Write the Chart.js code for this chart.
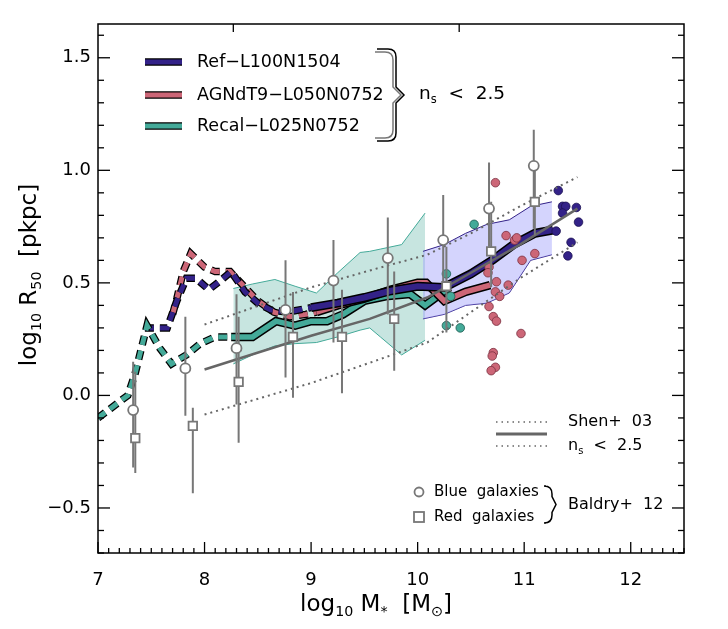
<!DOCTYPE html>
<html>
<head>
<meta charset="utf-8">
<script src="https://cdn.jsdelivr.net/npm/chart.js@4.4.1/dist/chart.umd.min.js"></script>
<style>
  html, body { margin: 0; padding: 0; background: #fff; }
  canvas { display: block; }
</style>
</head>
<body>
<canvas id="size-mass" width="728" height="629"></canvas>
<script>
// --- values (log10 M*, log10 R50) ---
const xTicks = [7, 8, 9, 10, 11, 12];
const yTicks = [-0.5, 0, 0.5, 1.0, 1.5];
const topTicks = [8.27, 10.39];

// Ref-L100N1504
const refDashX = [7.44, 7.65, 7.74, 7.83, 7.92, 8.04, 8.15, 8.25, 8.38, 8.5, 8.62, 8.78, 9.0];
const refDashY = [0.30, 0.30, 0.42, 0.52, 0.52, 0.47, 0.51, 0.55, 0.46, 0.41, 0.38, 0.37, 0.39];
const refX = [9.0, 9.25, 9.5, 9.75, 10.0, 10.25, 10.5, 10.7, 10.9, 11.1, 11.27];
const refY = [0.39, 0.41, 0.435, 0.465, 0.485, 0.48, 0.54, 0.60, 0.67, 0.72, 0.735];
const refBandX = [10.05, 10.25, 10.45, 10.65, 10.86, 11.06, 11.26];
const refBandHi = [0.64, 0.67, 0.72, 0.76, 0.78, 0.84, 0.86];
const refBandLo = [0.34, 0.36, 0.40, 0.41, 0.455, 0.60, 0.625];
const refDotsX = [11.32, 11.36, 11.39, 11.36, 11.49, 11.51, 11.30, 11.44, 11.41];
const refDotsY = [0.91, 0.84, 0.84, 0.81, 0.835, 0.77, 0.73, 0.68, 0.62];

// AGNdT9-L050N0752
const agnDashX = [7.70, 7.74, 7.80, 7.87, 8.0, 8.1, 8.24, 8.36, 8.5, 8.65, 8.8, 8.95, 9.05];
const agnDashY = [0.36, 0.43, 0.55, 0.63, 0.57, 0.55, 0.55, 0.49, 0.42, 0.37, 0.35, 0.36, 0.37];
const agnX = [9.05, 9.25, 9.5, 9.75, 10.0, 10.08, 10.25, 10.45, 10.68];
const agnY = [0.37, 0.40, 0.43, 0.47, 0.50, 0.50, 0.42, 0.46, 0.49];
const agnDotsX = [10.73, 10.83, 10.91, 10.93, 11.10, 10.98, 10.67, 10.66, 10.74, 10.85, 10.73, 10.77, 10.67, 10.71, 10.74, 10.97, 10.71, 10.70, 10.73, 10.69];
const agnDotsY = [0.945, 0.71, 0.69, 0.70, 0.63, 0.60, 0.57, 0.545, 0.505, 0.49, 0.46, 0.44, 0.395, 0.35, 0.33, 0.275, 0.19, 0.175, 0.125, 0.11];

// Recal-L025N0752
const recalDashX = [7.0, 7.28, 7.35, 7.46, 7.58, 7.69, 7.83, 7.96, 8.1, 8.25];
const recalDashY = [-0.10, 0.0, 0.10, 0.31, 0.21, 0.14, 0.18, 0.23, 0.26, 0.26];
const recalX = [8.25, 8.45, 8.67, 8.85, 9.0, 9.15, 9.3, 9.5, 9.7, 9.93, 10.07, 10.3];
const recalY = [0.26, 0.26, 0.33, 0.31, 0.33, 0.33, 0.36, 0.42, 0.44, 0.45, 0.40, 0.48];
const recalBandX = [8.27, 8.45, 8.66, 8.85, 9.05, 9.25, 9.46, 9.55, 9.65, 9.85, 10.07];
const recalBandHi = [0.475, 0.495, 0.515, 0.485, 0.455, 0.545, 0.635, 0.64, 0.65, 0.67, 0.81];
const recalBandLo = [0.14, 0.18, 0.22, 0.23, 0.235, 0.26, 0.29, 0.30, 0.26, 0.18, 0.245];
const recalDotsX = [10.53, 10.27, 10.31, 10.27, 10.40];
const recalDotsY = [0.76, 0.54, 0.44, 0.31, 0.30];

// Shen+03, n_s < 2.5
const shenX = [8.0, 9.0, 9.55, 10.09, 10.5, 10.96, 11.5];
const shenMed = [0.115, 0.265, 0.34, 0.435, 0.545, 0.67, 0.83];
const shenHi = [0.315, 0.48, 0.555, 0.625, 0.72, 0.84, 0.97];
const shenLo = [-0.085, 0.055, 0.145, 0.235, 0.37, 0.52, 0.68];

// Baldry+12
const blueX = [7.33, 7.82, 8.30, 8.76, 9.21, 9.72, 10.24, 10.67, 11.09];
const blueY = [-0.065, 0.12, 0.21, 0.38, 0.51, 0.61, 0.69, 0.83, 1.02];
const blueHi = [0.15, 0.35, 0.45, 0.60, 0.69, 0.79, 0.89, 1.035, 1.18];
const blueLo = [-0.32, -0.09, -0.04, 0.08, 0.235, 0.36, 0.48, 0.66, 0.74];
const redX = [7.35, 7.89, 8.32, 8.83, 9.29, 9.78, 10.27, 10.69, 11.10];
const redY = [-0.19, -0.135, 0.06, 0.26, 0.26, 0.34, 0.485, 0.64, 0.86];
const redHi = [0.105, -0.055, 0.35, 0.46, 0.47, 0.55, 0.66, 0.86, 1.02];
const redLo = [-0.345, -0.435, -0.21, -0.01, 0.01, 0.11, 0.28, 0.48, 0.71];

const NAVY = '#332288', ROSE = '#CC6677', TEAL = '#44AA99', GREY = '#777777';
const FONT = '"DejaVu Sans", sans-serif';

function pts(xs, ys) { return xs.map((x, i) => ({ x: x, y: ys[i] })); }
function bars(xs, lo, hi) {
  const out = [];
  xs.forEach((x, i) => { out.push({ x: x, y: lo[i] }, { x: x, y: hi[i] }, { x: x, y: null }); });
  return out;
}
function line(data, color, width, order, dash) {
  return { data: data, borderColor: color, borderWidth: width, borderDash: dash || [],
    pointRadius: 0, fill: false, tension: 0, order: order, spanGaps: false };
}
function dots(data, color, edge, r, order) {
  return { data: data, showLine: false, pointRadius: r, pointBackgroundColor: color,
    pointBorderColor: edge, pointBorderWidth: 0.8, order: order };
}

const DASH = [9, 6];
const datasets = [
  // bands
  Object.assign(line(pts(recalBandX, recalBandHi), TEAL, 1, 30), { fill: '+1', backgroundColor: 'rgba(68,170,153,0.30)' }),
  line(pts(recalBandX, recalBandLo), TEAL, 1, 30),
  Object.assign(line(pts(refBandX, refBandHi), NAVY, 1, 29), { fill: '+1', backgroundColor: 'rgba(160,160,250,0.45)' }),
  line(pts(refBandX, refBandLo), NAVY, 1, 29),
  // dashed low-mass parts
  line(pts(agnDashX, agnDashY), '#000', 7.5, 28, DASH),
  line(pts(agnDashX, agnDashY), ROSE, 5, 27, DASH),
  line(pts(refDashX, refDashY), '#000', 7.5, 26, DASH),
  line(pts(refDashX, refDashY), NAVY, 5, 25, DASH),
  line(pts(recalDashX, recalDashY), '#000', 7.5, 24, DASH),
  line(pts(recalDashX, recalDashY), TEAL, 5, 23, DASH),
  // solid parts
  line(pts(recalX, recalY), '#000', 8.5, 22),
  line(pts(recalX, recalY), TEAL, 5.5, 21),
  line(pts(agnX, agnY), '#000', 8.5, 20),
  line(pts(agnX, agnY), ROSE, 5.5, 19),
  line(pts(refX, refY), '#000', 9, 18),
  line(pts(refX, refY), NAVY, 6, 17),
  // individual galaxies
  dots(pts(refDotsX, refDotsY), NAVY, '#1a1050', 4.3, 12),
  dots(pts(agnDotsX, agnDotsY), ROSE, '#7a3040', 4.3, 11),
  dots(pts(recalDotsX, recalDotsY), TEAL, '#1f5a50', 4.3, 10),
  // Shen+03
  line(pts(shenX, shenHi), '#666', 2, 8, [2, 4]),
  line(pts(shenX, shenLo), '#666', 2, 8, [2, 4]),
  line(pts(shenX, shenMed), '#666', 2.5, 7),
  // Baldry+12 error bars and points
  line(bars(blueX, blueLo, blueHi), GREY, 2, 4),
  line(bars(redX, redLo, redHi), GREY, 2, 4),
  Object.assign(dots(pts(blueX, blueY), '#fff', GREY, 5, 2), { pointBorderWidth: 1.8 }),
  Object.assign(dots(pts(redX, redY), '#fff', GREY, 6, 1), { pointStyle: 'rect', pointBorderWidth: 1.8 })
];

function rich(ctx, parts, x, y, size, align) {
  const sub = size * 0.62;
  let w = 0;
  parts.forEach(p => { ctx.font = (p[1] ? sub : size) + 'px ' + FONT; w += ctx.measureText(p[0]).width; });
  let cx = align === 'center' ? x - w / 2 : x;
  ctx.textBaseline = 'middle';
  ctx.textAlign = 'left';
  parts.forEach(p => {
    ctx.font = (p[1] ? sub : size) + 'px ' + FONT;
    ctx.fillText(p[0], cx, p[1] ? y + size * 0.32 : y);
    cx += ctx.measureText(p[0]).width;
  });
}

function seg(ctx, x1, y1, x2, y2) { ctx.beginPath(); ctx.moveTo(x1, y1); ctx.lineTo(x2, y2); ctx.stroke(); }

function brace(ctx, x, top, bot, tip, dx) {
  const mid = (top + bot) / 2;
  ctx.beginPath();
  ctx.moveTo(x, top);
  ctx.lineTo(x + dx - 8, top);
  ctx.quadraticCurveTo(x + dx, top, x + dx, top + 8);
  ctx.lineTo(x + dx, mid - 8);
  ctx.lineTo(x + dx + tip, mid);
  ctx.lineTo(x + dx, mid + 8);
  ctx.lineTo(x + dx, bot - 8);
  ctx.quadraticCurveTo(x + dx, bot, x + dx - 8, bot);
  ctx.lineTo(x, bot);
  ctx.stroke();
}

const decor = {
  id: 'decor',
  afterDraw(chart) {
    const ctx = chart.ctx, xs = chart.scales.x, ys = chart.scales.y, a = chart.chartArea;
    ctx.save();
    ctx.strokeStyle = '#000';
    ctx.lineWidth = 1.5;
    ctx.strokeRect(a.left, a.top, a.right - a.left, a.bottom - a.top);
    ctx.lineWidth = 1.3;
    for (let i = 70; i <= 125; i++) {
      const px = xs.getPixelForValue(i / 10);
      seg(ctx, px, a.bottom, px, a.bottom - (i % 10 === 0 ? 11 : 5));
    }
    topTicks.forEach(v => { const px = xs.getPixelForValue(v); seg(ctx, px, a.top, px, a.top + 8); });
    for (let i = -7; i <= 16; i++) {
      const py = ys.getPixelForValue(i / 10);
      const len = i % 5 === 0 ? 12 : 6;
      seg(ctx, a.left, py, a.left + len, py);
      seg(ctx, a.right, py, a.right - len, py);
    }

    ctx.fillStyle = '#000';
    // axis titles
    rich(ctx, [['log', 0], ['10', 1], [' M', 0], ['*', 1], ['  [M', 0], ['\u2299', 1], [']', 0]], 376, 605, 23, 'center');
    ctx.save();
    ctx.translate(30, 275);
    ctx.rotate(-Math.PI / 2);
    rich(ctx, [['log', 0], ['10', 1], [' R', 0], ['50', 1], ['  [pkpc]', 0]], 0, 0, 23, 'center');
    ctx.restore();

    // simulation legend
    [[NAVY, 'Ref\u2212L100N1504', 62], [ROSE, 'AGNdT9\u2212L050N0752', 95], [TEAL, 'Recal\u2212L025N0752', 126]].forEach(e => {
      ctx.lineCap = 'butt';
      ctx.strokeStyle = '#000'; ctx.lineWidth = 7.5; seg(ctx, 145, e[2], 182, e[2]);
      ctx.strokeStyle = e[0]; ctx.lineWidth = 5; seg(ctx, 145, e[2], 182, e[2]);
      ctx.fillStyle = '#000';
      rich(ctx, [[e[1], 0]], 197, e[2], 17.5, 'left');
    });
    ctx.strokeStyle = GREY; ctx.lineWidth = 1.5; brace(ctx, 375, 52, 138, 8, 18);
    ctx.strokeStyle = '#000'; ctx.lineWidth = 1.5; brace(ctx, 377, 49, 141, 8, 19);
    rich(ctx, [['n', 0], ['s', 1], ['  <  2.5', 0]], 419, 94, 18.5, 'left');

    // Shen legend
    ctx.strokeStyle = '#666';
    ctx.setLineDash([1.5, 4]); ctx.lineWidth = 1.5;
    seg(ctx, 496, 422, 547, 422);
    seg(ctx, 496, 446, 547, 446);
    ctx.setLineDash([]); ctx.lineWidth = 3;
    seg(ctx, 496, 434, 547, 434);
    rich(ctx, [['Shen+  03', 0]], 568, 422, 16, 'left');
    rich(ctx, [['n', 0], ['s', 1], ['  <  2.5', 0]], 568, 446, 16, 'left');

    // Baldry legend
    ctx.strokeStyle = GREY; ctx.lineWidth = 1.8; ctx.fillStyle = '#fff';
    ctx.beginPath(); ctx.arc(419, 492, 4.5, 0, Math.PI * 2); ctx.fill(); ctx.stroke();
    ctx.fillRect(414, 512, 10, 10); ctx.strokeRect(414, 512, 10, 10);
    ctx.fillStyle = '#000';
    rich(ctx, [['Blue  galaxies', 0]], 434, 492, 15, 'left');
    rich(ctx, [['Red  galaxies', 0]], 434, 517, 15, 'left');
    ctx.strokeStyle = '#000'; ctx.lineWidth = 1.5;
    brace(ctx, 546, 486, 523, 4, 6);
    rich(ctx, [['Baldry+  12', 0]], 568, 505, 16, 'left');
    ctx.restore();
  }
};

new Chart(document.getElementById('size-mass').getContext('2d'), {
  type: 'line',
  data: { datasets: datasets },
  options: {
    responsive: false,
    animation: false,
    events: [],
    layout: { padding: { top: 24, right: 44, left: 0, bottom: 0 } },
    plugins: { legend: { display: false }, tooltip: { enabled: false } },
    scales: {
      x: {
        type: 'linear', min: 7, max: 12.5,
        grid: { display: false, drawTicks: false },
        border: { display: false },
        afterFit: s => { s.height = 76; },
        afterBuildTicks: s => { s.ticks = xTicks.map(v => ({ value: v })); },
        ticks: { padding: 17, color: '#000', font: { family: FONT, size: 18 },
          callback: v => String(v), maxRotation: 0, autoSkip: false }
      },
      y: {
        type: 'linear', min: -0.7, max: 1.65,
        grid: { display: false, drawTicks: false },
        border: { display: false },
        afterFit: s => { s.width = 98; },
        afterBuildTicks: s => { s.ticks = yTicks.map(v => ({ value: v })); },
        ticks: { padding: 7, color: '#000', font: { family: FONT, size: 18 },
          callback: v => (v < 0 ? '\u2212' : '') + Math.abs(v).toFixed(1), autoSkip: false }
      }
    }
  },
  plugins: [decor]
});
</script>
</body>
</html>
